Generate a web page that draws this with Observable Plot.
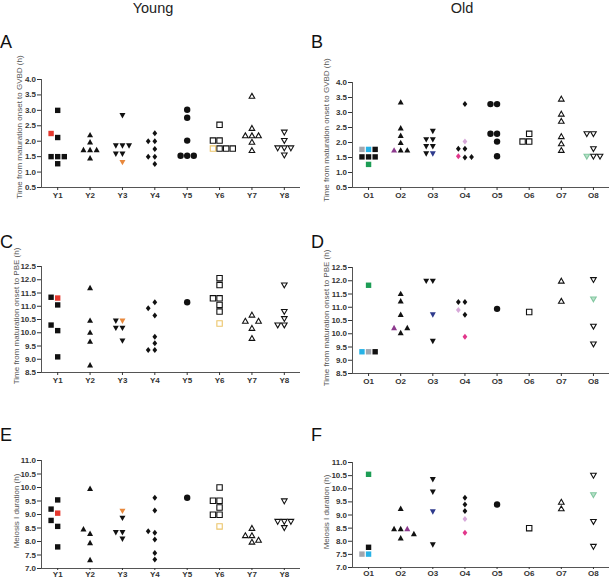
<!DOCTYPE html>
<html>
<head>
<meta charset="utf-8">
<script src="https://cdn.jsdelivr.net/npm/d3@7"></script>
<script src="https://cdn.jsdelivr.net/npm/@observablehq/plot@0.6"></script>
<style>
  html, body { margin: 0; padding: 0; background: #fff; }
  #root { position: relative; width: 611px; height: 579px; overflow: hidden; font-family: "Liberation Sans", Arial, sans-serif; }
  .t { position: absolute; white-space: nowrap; line-height: 1; }
  .title { font-size: 14.5px; color: #222; }
  .letter { font-size: 18px; color: #111; }
  .ylab { font-size: 8px; color: #555; transform: translate(-50%, -50%) rotate(-90deg); }
</style>
</head>
<body>
<div id="root"></div>
<script>
// ---------- data ----------
const youngCats = ["Y1", "Y2", "Y3", "Y4", "Y5", "Y6", "Y7", "Y8"];
const oldCats = ["O1", "O2", "O3", "O4", "O5", "O6", "O7", "O8"];
const gvbdTicks = [0.5, 1.0, 1.5, 2.0, 2.5, 3.0, 3.5, 4.0];
const pbeTicks = [8.5, 9.0, 9.5, 10.0, 10.5, 11.0, 11.5, 12.0, 12.5];
const meiTicks = [7.0, 7.5, 8.0, 8.5, 9.0, 9.5, 10.0, 10.5, 11.0];

// rows: [mouse, hours, tracked oocyte id]
const gvbdYoung = [
  ["Y1", 3.0], ["Y1", 2.12], ["Y1", 2.25, "y1"], ["Y1", 1.5], ["Y1", 1.5], ["Y1", 1.5], ["Y1", 1.27],
  ["Y2", 2.2], ["Y2", 1.97], ["Y2", 1.72], ["Y2", 1.72], ["Y2", 1.72], ["Y2", 1.45],
  ["Y3", 2.84], ["Y3", 1.86], ["Y3", 1.86], ["Y3", 1.86], ["Y3", 1.59], ["Y3", 1.59], ["Y3", 1.32, "y3"],
  ["Y4", 2.26], ["Y4", 2.0], ["Y4", 2.0], ["Y4", 1.75], ["Y4", 1.5], ["Y4", 1.5], ["Y4", 1.26],
  ["Y5", 3.02], ["Y5", 2.76], ["Y5", 2.02], ["Y5", 1.53], ["Y5", 1.53], ["Y5", 1.53],
  ["Y6", 2.53], ["Y6", 2.02], ["Y6", 2.02], ["Y6", 1.76], ["Y6", 1.76, "y6"], ["Y6", 1.76], ["Y6", 1.76],
  ["Y7", 3.46], ["Y7", 2.42], ["Y7", 2.18], ["Y7", 2.18], ["Y7", 2.18], ["Y7", 1.97], ["Y7", 1.7],
  ["Y8", 2.29], ["Y8", 2.02], ["Y8", 1.78], ["Y8", 1.78], ["Y8", 1.78], ["Y8", 1.55]
];
const gvbdOld = [
  ["O1", 1.77, "o1c"], ["O1", 1.77, "o1g"], ["O1", 1.77], ["O1", 1.52], ["O1", 1.52], ["O1", 1.52], ["O1", 1.27, "o1n"],
  ["O2", 3.34], ["O2", 2.48], ["O2", 2.23], ["O2", 1.99], ["O2", 1.74], ["O2", 1.74, "o2"], ["O2", 1.74],
  ["O3", 2.38], ["O3", 2.1], ["O3", 2.1], ["O3", 1.87], ["O3", 1.87], ["O3", 1.63, "o3"], ["O3", 1.63],
  ["O4", 3.28], ["O4", 2.03, "o4l"], ["O4", 1.79], ["O4", 1.79], ["O4", 1.5], ["O4", 1.54, "o4m"], ["O4", 1.52],
  ["O5", 3.28], ["O5", 3.28], ["O5", 2.29], ["O5", 2.29], ["O5", 2.03], ["O5", 1.54],
  ["O6", 2.29], ["O6", 2.03], ["O6", 2.03],
  ["O7", 3.45], ["O7", 2.95], ["O7", 2.71], ["O7", 2.2], ["O7", 1.96], ["O7", 1.74],
  ["O8", 2.29], ["O8", 2.29], ["O8", 1.79], ["O8", 1.54], ["O8", 1.54, "o8"], ["O8", 1.54]
];
const pbeYoung = [
  ["Y1", 11.31, "y1"], ["Y1", 11.34], ["Y1", 11.05], ["Y1", 10.08], ["Y1", 10.29], ["Y1", 9.09],
  ["Y2", 11.69], ["Y2", 10.46], ["Y2", 10.01], ["Y2", 9.67], ["Y2", 8.78],
  ["Y3", 10.45, "y3"], ["Y3", 10.45], ["Y3", 10.18], ["Y3", 10.18], ["Y3", 9.7],
  ["Y4", 11.15], ["Y4", 10.92], ["Y4", 10.65], ["Y4", 9.85], ["Y4", 9.6], ["Y4", 9.35], ["Y4", 9.35],
  ["Y5", 11.15],
  ["Y6", 12.06], ["Y6", 11.8], ["Y6", 11.3], ["Y6", 11.3], ["Y6", 11.05], ["Y6", 10.8], ["Y6", 10.35, "y6"],
  ["Y7", 10.67], ["Y7", 10.17], ["Y7", 10.44], ["Y7", 10.44], ["Y7", 9.79],
  ["Y8", 11.8], ["Y8", 10.8], ["Y8", 10.53], ["Y8", 10.29], ["Y8", 10.29]
];
const pbeOld = [
  ["O1", 11.83, "o1n"], ["O1", 9.32, "o1g"], ["O1", 9.32, "o1c"], ["O1", 9.32],
  ["O2", 11.51], ["O2", 11.23], ["O2", 10.72], ["O2", 10.03], ["O2", 10.22, "o2"], ["O2", 10.22],
  ["O3", 11.99], ["O3", 11.99], ["O3", 10.72, "o3"], ["O3", 9.72],
  ["O4", 11.2], ["O4", 11.2], ["O4", 10.72], ["O4", 10.9, "o4l"], ["O4", 9.89, "o4m"],
  ["O5", 10.94],
  ["O6", 10.82],
  ["O7", 11.99], ["O7", 11.23],
  ["O8", 12.04], ["O8", 11.31, "o8"], ["O8", 10.28], ["O8", 9.61]
];
const meiYoung = [
  ["Y1", 9.54], ["Y1", 8.56], ["Y1", 9.05, "y1"], ["Y1", 9.2], ["Y1", 8.78], ["Y1", 7.8],
  ["Y2", 9.96], ["Y2", 8.29], ["Y2", 8.46], ["Y2", 7.95], ["Y2", 7.32],
  ["Y3", 9.13, "y3"], ["Y3", 8.87], ["Y3", 8.34], ["Y3", 8.34], ["Y3", 8.1],
  ["Y4", 9.62], ["Y4", 9.15], ["Y4", 8.32], ["Y4", 8.38], ["Y4", 8.07], ["Y4", 7.57], ["Y4", 7.33],
  ["Y5", 9.62],
  ["Y6", 10.0], ["Y6", 9.51], ["Y6", 9.51], ["Y6", 9.26], ["Y6", 8.99], ["Y6", 8.99], ["Y6", 8.56, "y6"],
  ["Y7", 8.49], ["Y7", 8.22], ["Y7", 8.22], ["Y7", 7.98], ["Y7", 8.05],
  ["Y8", 9.5], ["Y8", 8.74], ["Y8", 8.74], ["Y8", 8.74], ["Y8", 8.51]
];
const meiOld = [
  ["O1", 10.55, "o1n"], ["O1", 7.77], ["O1", 7.51, "o1c"], ["O1", 7.51, "o1g"],
  ["O2", 9.24], ["O2", 8.47], ["O2", 8.47], ["O2", 8.47, "o2"], ["O2", 8.12], ["O2", 8.28],
  ["O3", 10.36], ["O3", 9.88], ["O3", 9.13, "o3"], ["O3", 7.87],
  ["O4", 9.66], ["O4", 9.4], ["O4", 9.15], ["O4", 8.85, "o4l"], ["O4", 8.32, "o4m"],
  ["O5", 9.4],
  ["O6", 8.5],
  ["O7", 9.49], ["O7", 9.24],
  ["O8", 10.51], ["O8", 9.77, "o8"], ["O8", 8.75], ["O8", 7.8]
];

// ---------- styles ----------
const oocyteColor = {
  y1: "#e5382e", y3: "#e8883c", y6: "#ecc56a",
  o1g: "#a2a6ae", o1c: "#27b2e6", o1n: "#1d9d55",
  o2: "#8d3a8e", o3: "#2e3a8c", o4l: "#d7a9d9", o4m: "#e2378b", o8: "#82c7a0"
};
const oocyteFillOpen = { y6: "#ffffff", o8: "#b9e0c9" };

const sq = {draw(c) { c.moveTo(-2.7, -2.7); c.lineTo(2.7, -2.7); c.lineTo(2.7, 2.7); c.lineTo(-2.7, 2.7); c.closePath(); }};
const triUp = {draw(c) { c.moveTo(0, -3.1); c.lineTo(3.0, 2.3); c.lineTo(-3.0, 2.3); c.closePath(); }};
const triDown = {draw(c) { c.moveTo(0, 3.1); c.lineTo(3.0, -2.3); c.lineTo(-3.0, -2.3); c.closePath(); }};
const diamond = {draw(c) { c.moveTo(0, -3.0); c.lineTo(2.4, 0); c.lineTo(0, 3.0); c.lineTo(-2.4, 0); c.closePath(); }};
const circ = {draw(c) { c.moveTo(3.2, 0); c.arc(0, 0, 3.2, 0, 2 * Math.PI); }};
const osq = {draw(c) { c.moveTo(-2.7, -2.7); c.lineTo(2.7, -2.7); c.lineTo(2.7, 2.7); c.lineTo(-2.7, 2.7); c.closePath(); }};
const otriUp = {draw(c) { c.moveTo(0, -2.8); c.lineTo(2.8, 2.1); c.lineTo(-2.8, 2.1); c.closePath(); }};
const otriDown = {draw(c) { c.moveTo(0, 2.8); c.lineTo(2.8, -2.1); c.lineTo(-2.8, -2.1); c.closePath(); }};
const shapes = [sq, triUp, triDown, diamond, circ, osq, otriUp, otriDown];
const isOpen = [false, false, false, false, false, true, true, true];

const FONT = '"Liberation Sans", Arial, sans-serif';
const root = document.getElementById("root");

function addText(cls, text, left, top) {
  const d = document.createElement("div");
  d.className = "t " + cls;
  d.textContent = text;
  d.style.left = left + "px";
  d.style.top = top + "px";
  root.appendChild(d);
  return d;
}

function panel(cfg) {
  const {rows, cats, ticks, left, top, width, height, mL, mR, mT, mB, xTick, xPad} = cfg;
  const yDom = [ticks[0], ticks[ticks.length - 1]];
  const yScale = Plot.scale({y: {domain: yDom, range: [height - mB, mT]}});
  const pxPerX = (width - mL - mR) / 8;
  const stepX = 6.6 / pxPerX;
  const slotOrder = [0, -1, 1, 2, -2, 3, -3];
  const placed = new Map();
  const data = rows.map(([g, v, tag]) => {
    const py = yScale.apply(v);
    if (!placed.has(g)) placed.set(g, []);
    const list = placed.get(g);
    const slot = slotOrder.find(s => !list.some(p => p.slot === s && Math.abs(p.py - py) < 6.2));
    list.push({slot, py});
    const k = cats.indexOf(g);
    return {g, v, tag, k, x: k + 1 + slot * stepX};
  });
  data.sort((a, b) => (a.tag ? 1 : 0) - (b.tag ? 1 : 0));

  const marks = [
    Plot.ruleX([0.5], {stroke: "#555", strokeWidth: 1}),
    Plot.ruleY([yDom[0]], {stroke: "#555", strokeWidth: 1}),
    Plot.axisY({ticks, tickFormat: d3.format(".1f"), tickSize: 4, tickPadding: 1.5,
      fontSize: 8, fontWeight: "bold", color: "#333", label: null}),
    Plot.axisX({ticks: d3.range(1, 9), tickFormat: i => cats[i - 1], tickSize: xTick, tickPadding: xPad,
      fontSize: 8, fontWeight: "bold", color: "#333", label: null})
  ];
  shapes.forEach((sym, k) => {
    const pts = data.filter(d => d.k === k);
    if (isOpen[k]) {
      marks.push(Plot.dot(pts, {x: "x", y: "v", symbol: sym,
        fill: d => d.tag ? (oocyteFillOpen[d.tag] || "#fff") : "#fff",
        stroke: d => d.tag ? oocyteColor[d.tag] : "#111", strokeWidth: 1.1, strokeLinejoin: "miter"}));
    } else {
      marks.push(Plot.dot(pts, {x: "x", y: "v", symbol: sym,
        fill: d => d.tag ? oocyteColor[d.tag] : "#111", stroke: "none"}));
    }
  });

  const svg = Plot.plot({
    width, height, marginLeft: mL, marginRight: mR, marginTop: mT, marginBottom: mB,
    x: {domain: [0.5, 8.5]},
    y: {domain: yDom},
    color: {type: "identity"},
    style: {fontFamily: FONT, background: "transparent", overflow: "visible"},
    marks
  });
  svg.style.position = "absolute";
  svg.style.left = left + "px";
  svg.style.top = top + "px";
  root.appendChild(svg);
}

// titles and panel letters
const ty = addText("title", "Young", 0, 1); ty.style.left = "153px"; ty.style.transform = "translateX(-50%)";
const to = addText("title", "Old", 0, 1); to.style.left = "462px"; to.style.transform = "translateX(-50%)";
addText("letter", "A", 0, 33);
addText("letter", "B", 311, 33);
addText("letter", "C", 0, 233);
addText("letter", "D", 311, 233);
addText("letter", "E", 0, 426);
addText("letter", "F", 311, 426);

const gvbdLabel = "Time from maturation onset to GVBD (h)";
const pbeLabel = "Time from maturation onset to PBE (h)";
const meiLabel = "Meiosis I duration (h)";
addText("ylab", gvbdLabel, 20, 127);
addText("ylab", gvbdLabel, 327, 130);
addText("ylab", pbeLabel, 17, 316);
addText("ylab", pbeLabel, 327, 318);
addText("ylab", meiLabel, 17, 511);
addText("ylab", meiLabel, 327, 512);

panel({rows: gvbdYoung, cats: youngCats, ticks: gvbdTicks, left: 0, top: 60, width: 305, height: 150, mL: 41, mR: 5, mT: 19, mB: 23, xTick: 3, xPad: 2});
panel({rows: gvbdOld, cats: oldCats, ticks: gvbdTicks, left: 300, top: 60, width: 311, height: 150, mL: 52, mR: 2, mT: 22, mB: 23, xTick: 3, xPad: 2});
panel({rows: pbeYoung, cats: youngCats, ticks: pbeTicks, left: 0, top: 230, width: 305, height: 165, mL: 41, mR: 5, mT: 36, mB: 23, xTick: 3, xPad: 2});
panel({rows: pbeOld, cats: oldCats, ticks: pbeTicks, left: 300, top: 230, width: 311, height: 166, mL: 52, mR: 2, mT: 37, mB: 23, xTick: 3, xPad: 2});
panel({rows: meiYoung, cats: youngCats, ticks: meiTicks, left: 0, top: 400, width: 305, height: 179, mL: 41, mR: 5, mT: 60, mB: 11, xTick: 2, xPad: 0.5});
panel({rows: meiOld, cats: oldCats, ticks: meiTicks, left: 300, top: 400, width: 311, height: 179, mL: 52, mR: 2, mT: 62, mB: 12, xTick: 2, xPad: 0.5});
</script>
</body>
</html>
